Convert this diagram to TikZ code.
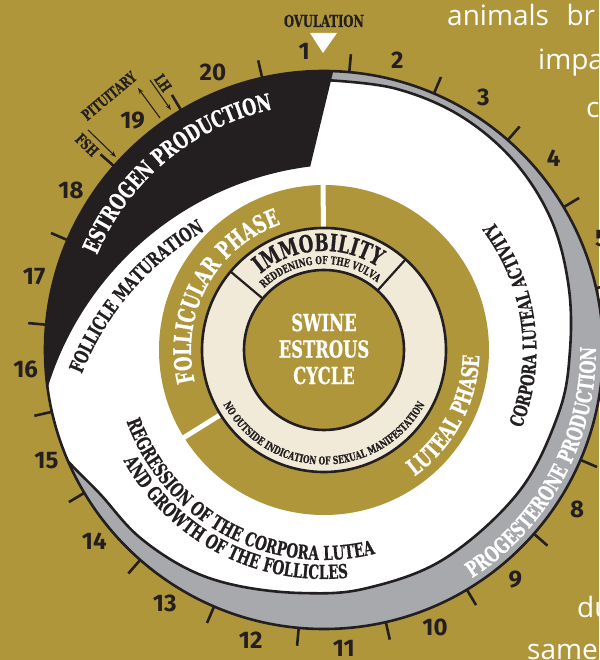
\documentclass[tikz,border=0pt]{standalone}
\usepackage{fontspec}
\usepackage{tikz}
\usetikzlibrary{decorations.text,arrows.meta}
\newfontfamily\slabfamily[FakeStretch=0.7,FakeBold=0.6]{DejaVu Serif}
\newfontfamily\numfamily{Fira Sans}
\newfontfamily\bodyfamily{Open Sans}
\newcommand{\slab}[1]{\slabfamily\bfseries\fontsize{#1}{#1}\selectfont}
\definecolor{gold}{RGB}{176,150,59}
\definecolor{cream}{RGB}{242,234,216}
\definecolor{ringgray}{RGB}{167,169,172}
\definecolor{ink}{RGB}{35,31,32}

\begin{document}
\begin{tikzpicture}[x=1pt,y=1pt,
		ring line/.style={draw=ink,line width=2.6pt},
		tickmark/.style={ink,line width=2.6pt},
		daynum/.style={text=ink,font=\numfamily\bfseries\fontsize{24}{24}\selectfont},
		small label/.style={text=ink,font=\slab{15}},
		body/.style={text=white,anchor=base west,inner sep=0pt,font=\bodyfamily\fontsize{28}{28}\selectfont},
		hormone/.style={ink,line width=1.1pt,-{Stealth[length=6pt,width=4.5pt]}},
		arc text/.style={decorate,decoration={text along path,text align=center,text={#1}}}]
	\useasboundingbox (-324,-310) rectangle (275,350);
	\fill[gold] (-324,-310) rectangle (275,350);
	% outer ring: progesterone (gray) and estrogen (black)
	\fill[ringgray] (0,0) circle (279);
	\begin{scope}
		\clip (0,0) circle (279);
		\filldraw[fill=white,ring line] plot[smooth,tension=0.6] coordinates {(90:270) (75:271) (60:271) (45:268) (30:262) (15:253) (0:246) (-15:243) (-36:241) (-60:241) (-80:242) (-95:244) (-110:251) (-122:258) (-135:263) (-147:266) (-154:275) (-158:282)} -- (-165:320) -- (180:320) -- (100:320) -- (88:300) -- cycle;
		\clip (32.5,375) -- (-85,-111) -- (-400,-111) -- (-400,375) -- cycle;
		\fill[ink,even odd rule] (-400,-400) rectangle (400,400) (26,-130) circle (316);
	\end{scope}
	\draw[ring line] (0,0) circle (279);
	% days
	\foreach \k in {0,...,19}
		\draw[tickmark] ({102.8-18*\k}:279) -- ({102.8-18*\k}:297);
	\foreach \n in {1,...,20}
		\node[daynum] (day\n) at ({93.8-18*(\n-1)}:299) {\n};
	\node[small label,font=\slab{16.5}] (ovulation) at (0,329) {OVULATION};
	\fill[white] (-14,317) -- (13,317) -- (-1,297) -- cycle;
	% pituitary hormones
	\node[small label,rotate=40] (pituitary) at (-215,254) {PITUITARY};
	\node[small label,rotate=-44] (fsh) at (-237,205) {FSH};
	\node[small label,rotate=-55] (lh) at (-161,267) {LH};
	\coordinate (fsh tail) at (-236,220);
	\coordinate (fsh head) at (-208,193);
	\coordinate (lh tail) at (-174,270);
	\coordinate (lh head) at (-153,240);
	\coordinate (feedback tail) at (-164,232);
	\coordinate (feedback head) at (-186,262);
	\draw[hormone] (fsh tail) -- (fsh head);
	\draw[hormone] (lh tail) -- (lh head);
	\draw[hormone] (feedback tail) -- (feedback head);
	% phases
	\fill[gold] (0,0) circle (165);
	\draw[white,line width=5pt] (90.3:118) -- (90.3:168) (212:118) -- (212:168);
	\filldraw[fill=cream,ring line] (0,0) circle (122);
	\filldraw[fill=gold,ring line] (0,0) circle (80);
	\draw[ink,line width=2.2pt] (48:80) -- (48:122) (140:80) -- (140:122);
	\node[text=white,align=center,font=\slabfamily\bfseries\fontsize{23.4}{26.5}\selectfont] (title) at (0,1) {SWINE\\ESTROUS\\CYCLE};
	% texts along the rings
	\path[arc text={|\slab{22.9}\color{white}|ESTROGEN PRODUCTION}] (174.7:246) arc[start angle=174.7,end angle=84.7,radius=246];
	\path[arc text={|\slab{19.4}\color{ink}|FOLLICLE MATURATION}] ([shift={(26,-130)}]176.35:288.5) arc[start angle=176.35,end angle=102.35,radius=288.5];
	\path[arc text={|\slab{19.4}\color{ink}|REGRESSION OF THE CORPORA LUTEA}] (172:210) arc[start angle=172,end angle=312,radius=210];
	\path[arc text={|\slab{19.4}\color{ink}|AND GROWTH OF THE FOLLICLES}] (182.5:229) arc[start angle=182.5,end angle=302.5,radius=229];
	\path[arc text={|\slab{18.9}\color{ink}|CORPORA LUTEAL ACTIVITY}] (-42.2:212.5) arc[start angle=-42.2,end angle=57.8,radius=212.5];
	\path[arc text={|\slab{21.7}\color{white}|PROGESTERONE PRODUCTION}] (-78.2:272) arc[start angle=-78.2,end angle=21.8,radius=272];
	\path[arc text={|\slab{24}\color{white}|FOLLICULAR PHASE}] (211.4:133) arc[start angle=211.4,end angle=91.4,radius=133];
	\path[arc text={|\slab{22.9}\color{white}|LUTEAL PHASE}] (-78.2:155.5) arc[start angle=-78.2,end angle=21.8,radius=155.5];
	\path[arc text={|\slab{24}\color{ink}|IMMOBILITY}] (153.5:99) arc[start angle=153.5,end angle=33.5,radius=99];
	\path[arc text={|\slab{10.9}\color{ink}|REDDENING OF THE VULVA}] (163:86) arc[start angle=163,end angle=23,radius=86];
	\path[arc text={|\slab{10.9}\color{ink}|NO OUTSIDE INDICATION OF SEXUAL MANIFESTATION}] (185:114.5) arc[start angle=185,end angle=355,radius=114.5];
	% page text beside the figure
	\node[body] (line a) at (123,324) {animals\hspace{17.5pt}br};
	\node[body] (line b) at (214,280) {impa};
	\node[body] (line c) at (262,232) {c};
	\node[body] (line d) at (253,-267) {du};
	\node[body] (line e) at (203,-309) {same};
\end{tikzpicture}
\end{document}
